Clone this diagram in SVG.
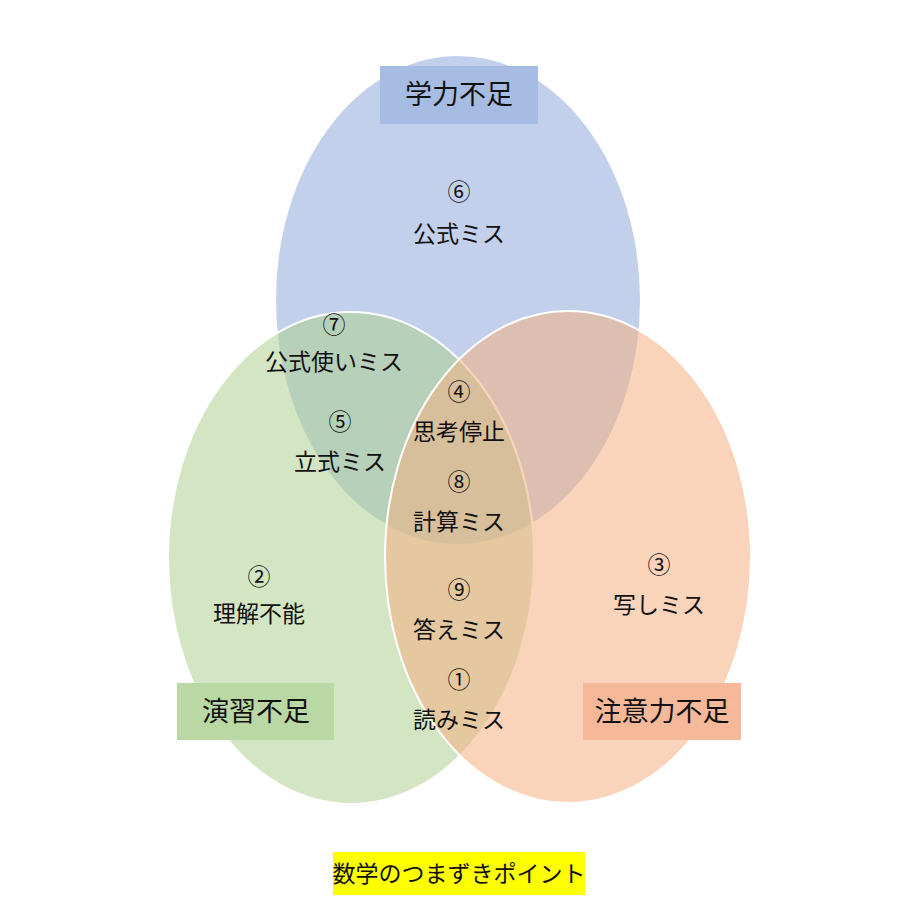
<svg xmlns="http://www.w3.org/2000/svg" width="919" height="919" viewBox="0 0 919 919">
<style>
.t{font-family:"Noto Sans CJK JP","Noto Sans",sans-serif;font-size:23px;fill:#111;text-anchor:middle}
.h{font-size:27px}
.c{fill-opacity:0.55;stroke:#fff;stroke-width:2}
</style>
<rect width="919" height="919" fill="#fff"/>
<g id="circles">
<ellipse id="blue" class="c" cx="458" cy="300" rx="183" ry="245" fill="#90aadc"/>
<ellipse id="green" class="c" cx="351" cy="558" rx="183" ry="246" fill="#aed08f"/>
<ellipse id="orange" class="c" cx="568" cy="557" rx="183" ry="246" fill="#f4b183"/>
</g>
<g id="label-gakuryoku"><rect x="380" y="66" width="158" height="58" fill="#a7bce3"/><text class="t h" x="459" y="104">学力不足</text></g>
<g id="label-enshu"><rect x="177" y="683" width="157" height="57" fill="#b9d8a3"/><text class="t h" x="256" y="721">演習不足</text></g>
<g id="label-chui"><rect x="583" y="683" width="158" height="57" fill="#f5b99a"/><text class="t h" x="662" y="721">注意力不足</text></g>
<g id="n6"><text class="t" x="459" y="200">⑥</text><text class="t" x="459" y="242">公式ミス</text></g>
<g id="n7"><text class="t" x="334" y="333">⑦</text><text class="t" x="334" y="370">公式使いミス</text></g>
<g id="n5"><text class="t" x="340" y="430">⑤</text><text class="t" x="340" y="470">立式ミス</text></g>
<g id="n4"><text class="t" x="459" y="400">④</text><text class="t" x="459" y="440">思考停止</text></g>
<g id="n8"><text class="t" x="459" y="490">⑧</text><text class="t" x="459" y="530">計算ミス</text></g>
<g id="n2"><text class="t" x="259" y="585">②</text><text class="t" x="259" y="622">理解不能</text></g>
<g id="n9"><text class="t" x="459" y="598">⑨</text><text class="t" x="459" y="638">答えミス</text></g>
<g id="n3"><text class="t" x="659" y="573">③</text><text class="t" x="659" y="613">写しミス</text></g>
<g id="n1"><text class="t" x="459" y="688">①</text><text class="t" x="459" y="728">読みミス</text></g>
<g id="title"><rect x="333" y="852" width="252" height="43" fill="#ffff00"/><text class="t" x="459" y="882">数学のつまずきポイント</text></g>
<g id="connectors"/>
</svg>
